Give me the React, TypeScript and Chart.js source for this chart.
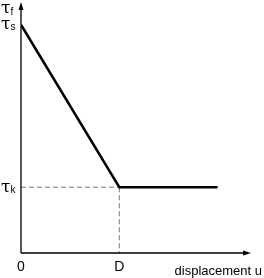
import React, { useEffect, useRef } from "react";
import { Chart, registerables } from "chart.js";

Chart.register(...registerables);

// Data (x in units of D, y in units of tau_k)
const xTicks = [0, 1];
const xTickLabels = ["0", "D"];
const curveX = [0, 1, 2];
const curveY = [3.47, 1, 1];
const tauK = 1;
const tauS = 3.47;
const dValue = 1;
const yLabels = [
  { value: 3.8, main: "τ", sub: "f" },
  { value: tauS, main: "τ", sub: "s" },
  { value: tauK, main: "τ", sub: "k" },
];
const xTitle = "displacement u";
const xMax = 2.33;
const yMax = 3.8;

const axesPlugin = {
  id: "customAxes",
  afterDatasetsDraw(chart: any) {
    const { ctx, scales } = chart;
    const xs = scales.x;
    const ys = scales.y;
    const x0 = xs.getPixelForValue(0);
    const y0 = ys.getPixelForValue(0);
    const xEnd = xs.getPixelForValue(xMax);
    const yTop = ys.getPixelForValue(yMax);
    ctx.save();
    ctx.strokeStyle = "#000";
    ctx.fillStyle = "#000";
    ctx.lineWidth = 1.3;
    ctx.beginPath();
    ctx.moveTo(x0, y0);
    ctx.lineTo(x0, yTop + 4);
    ctx.moveTo(x0, y0);
    ctx.lineTo(xEnd - 4, y0);
    ctx.stroke();
    // arrow heads
    ctx.beginPath();
    ctx.moveTo(x0, yTop - 1);
    ctx.lineTo(x0 - 2.5, yTop + 7);
    ctx.lineTo(x0 + 2.5, yTop + 7);
    ctx.closePath();
    ctx.fill();
    ctx.beginPath();
    ctx.moveTo(xEnd + 1, y0);
    ctx.lineTo(xEnd - 7, y0 - 2.5);
    ctx.lineTo(xEnd - 7, y0 + 2.5);
    ctx.closePath();
    ctx.fill();

    // x tick labels
    ctx.font = "14px 'Liberation Sans', Arial, sans-serif";
    ctx.textAlign = "center";
    ctx.textBaseline = "middle";
    xTicks.forEach((v, i) => {
      ctx.fillText(xTickLabels[i], xs.getPixelForValue(v), y0 + 14);
    });
    // x title
    ctx.font = "13px 'Liberation Sans', Arial, sans-serif";
    ctx.textAlign = "right";
    ctx.fillText(xTitle, chart.width - 2, y0 + 18);

    // y labels with subscripts
    yLabels.forEach((l) => {
      const py = ys.getPixelForValue(l.value);
      const yy = l.value === yMax ? 9 : py;
      ctx.textAlign = "left";
      ctx.font = "17px 'DejaVu Serif', serif";
      ctx.fillText(l.main, 1, yy);
      const w = ctx.measureText(l.main).width;
      ctx.font = "10px 'Liberation Sans', Arial, sans-serif";
      ctx.fillText(l.sub, 1 + w, yy + 3);
    });
    ctx.restore();
  },
};

export default function App() {
  const ref = useRef<HTMLCanvasElement>(null);
  useEffect(() => {
    document.body.style.margin = "0";
    const chart = new Chart(ref.current!, {
      type: "scatter",
      data: {
        datasets: [
          {
            data: curveX.map((x, i) => ({ x, y: curveY[i] })),
            showLine: true,
            borderColor: "#000",
            borderWidth: 2.5,
            pointRadius: 0,
            order: 0,
          },
          {
            data: [
              { x: 0, y: tauK },
              { x: dValue, y: tauK },
            ],
            showLine: true,
            borderColor: "#777",
            borderWidth: 1,
            borderDash: [5, 3],
            pointRadius: 0,
            order: 1,
          },
          {
            data: [
              { x: dValue, y: tauK },
              { x: dValue, y: 0 },
            ],
            showLine: true,
            borderColor: "#777",
            borderWidth: 1,
            borderDash: [5, 3],
            pointRadius: 0,
            order: 1,
          },
        ],
      },
      options: {
        animation: false,
        responsive: false,
        layout: { padding: { left: 21, top: 3, right: 14, bottom: 25 } },
        plugins: { legend: { display: false }, tooltip: { enabled: false } },
        scales: {
          x: { type: "linear", min: 0, max: xMax, display: false },
          y: { type: "linear", min: 0, max: yMax, display: false },
        },
      },
      plugins: [axesPlugin],
    });
    return () => chart.destroy();
  }, []);
  return (
    <div style={{ width: 264, height: 278 }}>
      <canvas ref={ref} width={264} height={278} />
    </div>
  );
}
